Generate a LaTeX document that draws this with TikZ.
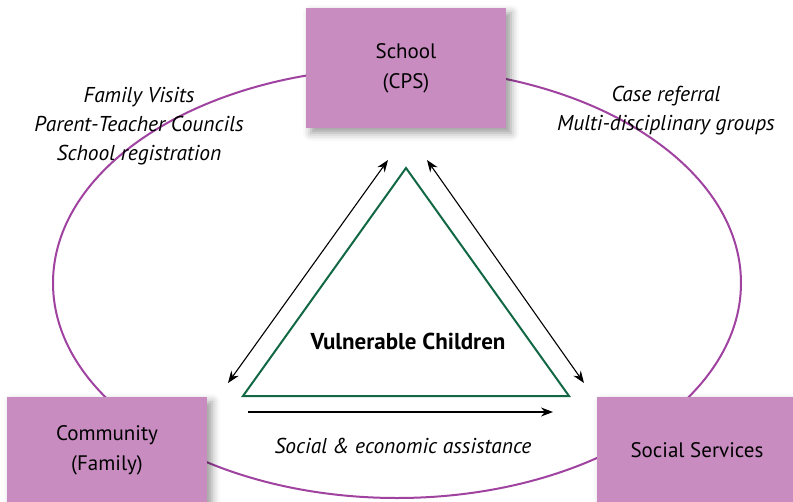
\documentclass[tikz,border=0pt]{standalone}
\usepackage{fontspec}
\setmainfont{PT Sans}
\usetikzlibrary{positioning, shadows.blur, arrows.meta}
\definecolor{agencypink}{RGB}{200, 140, 192}
\definecolor{ringpurple}{RGB}{160, 66, 160}
\definecolor{childgreen}{RGB}{18, 104, 68}
\tikzstyle{agency} = [rectangle, minimum width=200pt, minimum height=120pt, align=center, fill=agencypink, font=\fontsize{21}{30}\selectfont, blur shadow={shadow xshift=5pt, shadow yshift=-5pt, shadow blur radius=8pt, shadow opacity=40}]
\tikzstyle{link} = [align=center, font=\fontsize{21.5}{29}\selectfont\itshape]
\tikzstyle{arrow} = [line width=1.1pt, -{Stealth[length=12pt, width=9pt]}]
\tikzstyle{twoway} = [line width=1.1pt, {Stealth[length=12pt, width=9pt]}-{Stealth[length=12pt, width=9pt]}]

\begin{document}
\begin{tikzpicture}[x=1pt, y=-1pt]
\useasboundingbox (0,0) rectangle (793,501);

% Ring of partners
\draw [ringpurple, line width=2pt] (397,283) ellipse [x radius=344, y radius=215];

% Agencies
\node (school) [agency] at (406,68) {School\\(CPS)};
\node (community) [agency, minimum height=106pt] at (107,450) {Community\\(Family)};
\node (social) [agency, minimum height=106pt] at (697,450) {Social Services};

% Children
\coordinate (apex) at (406,168);
\coordinate (baseL) at (243,396);
\coordinate (baseR) at (569,396);
\draw [childgreen, line width=2pt] (apex) -- (baseL) -- (baseR) -- cycle;
\node (children) [font=\fontsize{23}{27}\selectfont\bfseries] at (408,341) {Vulnerable Children};

% Links
\node (visits) [link] at (139,126) {Family Visits\\Parent-Teacher Councils\\School registration};
\node (referral) [link] at (666,111) {Case referral\\Multi-disciplinary groups};
\node (assist) [link] at (403,446) {Social \& economic assistance};

% Arrows
\coordinate (schoolL) at (388,160);
\coordinate (schoolR) at (427,160);
\coordinate (communityT) at (228,383);
\coordinate (socialT) at (584,383);
\coordinate (assistL) at (248,412);
\coordinate (assistR) at (553,412);
\draw [twoway] (schoolL) -- (communityT);
\draw [twoway] (schoolR) -- (socialT);
\draw [arrow] (assistL) -- (assistR);

\end{tikzpicture}
\end{document}
